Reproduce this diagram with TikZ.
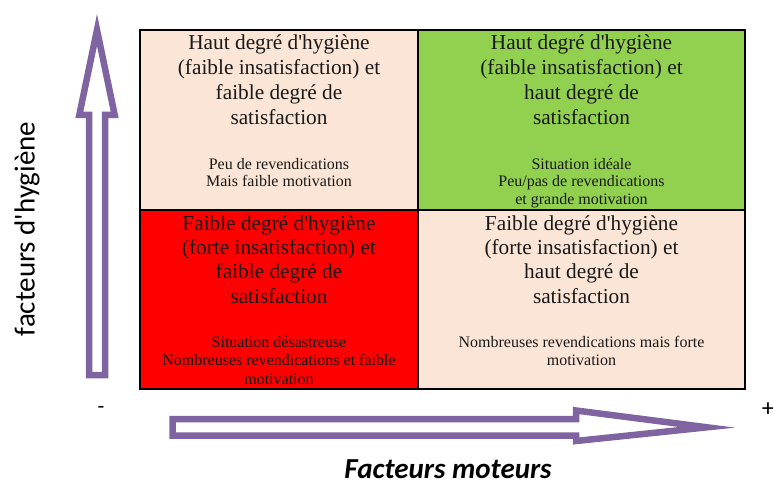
\documentclass[tikz,border=0pt]{standalone}
\usepackage{fontspec}
\setmainfont{Liberation Serif}[Ligatures=TeXOff]
\newfontfamily\calib{Carlito}[Ligatures=TeXOff]
\definecolor{peach}{HTML}{FBE5D6}
\definecolor{okgreen}{HTML}{92D050}
\definecolor{badred}{HTML}{FF0000}
\definecolor{arrowpurple}{HTML}{8064A2}
\begin{document}
\begin{tikzpicture}[x=1pt,y=-1pt,
  gridline/.style={draw=black, line width=2.5pt},
  big/.style={anchor=base, inner sep=0pt, font=\fontsize{21.3}{24.8}\selectfont, text=black!90},
  small/.style={anchor=base, inner sep=0pt, font=\fontsize{16}{18}\selectfont, text=black!90},
  bigarrow/.style={draw=arrowpurple, line width=6.5pt, fill=white, line join=miter, miter limit=14},
  axislabel/.style={inner sep=0pt, font=\calib\fontsize{29}{34}\selectfont}]
\useasboundingbox (0,0) rectangle (773,484);

% cells
\fill[peach]   (140,30)  rectangle (418,210);
\fill[okgreen] (418,30)  rectangle (745,210);
\fill[badred]  (140,210) rectangle (418,389);
\fill[peach]   (418,210) rectangle (745,389);
\draw[gridline] (140,30) rectangle (745,389);
\draw[gridline] (418,30) -- (418,389);
\draw[gridline] (140,210) -- (745,210);

% top-left
\foreach \t [count=\i] in {Haut degré d'hygiène,(faible insatisfaction) et,faible degré de,satisfaction}
  \node[big, name=tl\i] at (279,{50+24.8*(\i-1)}) {\t};
\foreach \t [count=\i] in {Peu de revendications,Mais faible motivation}
  \node[small, name=tls\i] at (279,{169+17.7*(\i-1)}) {\t};

% top-right
\foreach \t [count=\i] in {Haut degré d'hygiène,(faible insatisfaction) et,haut degré de,satisfaction}
  \node[big, name=tr\i] at (581.5,{50+24.8*(\i-1)}) {\t};
\foreach \t [count=\i] in {Situation idéale,Peu/pas de revendications,et grande motivation}
  \node[small, name=trs\i] at (581.5,{169+17.6*(\i-1)}) {\t};

% bottom-left
\foreach \t [count=\i] in {Faible degré d'hygiène,(forte insatisfaction) et,faible degré de,satisfaction}
  \node[big, name=bl\i] at (279,{230+24.4*(\i-1)}) {\t};
\foreach \t [count=\i] in {Situation désastreuse,Nombreuses revendications et faible,motivation}
  \node[small, name=bls\i] at (279,{347.7+18.2*(\i-1)}) {\t};

% bottom-right
\foreach \t [count=\i] in {Faible degré d'hygiène,(forte insatisfaction) et,haut degré de,satisfaction}
  \node[big, name=br\i] at (581.5,{230+24.4*(\i-1)}) {\t};
\foreach \t [count=\i] in {Nombreuses revendications mais forte,motivation}
  \node[small, name=brs\i] at (581.5,{347.7+18*(\i-1)}) {\t};

% arrows
\draw[bigarrow] (89,375) -- (89,115) -- (79.3,115) -- (97,30) -- (114.7,115) -- (105,115) -- (105,375) -- cycle;
\draw[bigarrow] (172.5,419) -- (576,419) -- (576,410.5) -- (707,427.3) -- (576,441) -- (576,435.7) -- (172.5,435.7) -- cycle;

% labels
\node[axislabel, rotate=90] (ylab) at (27,229) {facteurs d'hygiène};
\node[axislabel, font=\calib\bfseries\itshape\fontsize{29}{34}\selectfont] (xlab) at (448,469) {Facteurs moteurs};
\node[inner sep=0pt, font=\calib\fontsize{22}{26}\selectfont] (minus) at (101,410) {-};
\node[inner sep=0pt, font=\calib\fontsize{25}{29}\selectfont] (plus) at (768,410) {+};
\end{tikzpicture}
\end{document}
